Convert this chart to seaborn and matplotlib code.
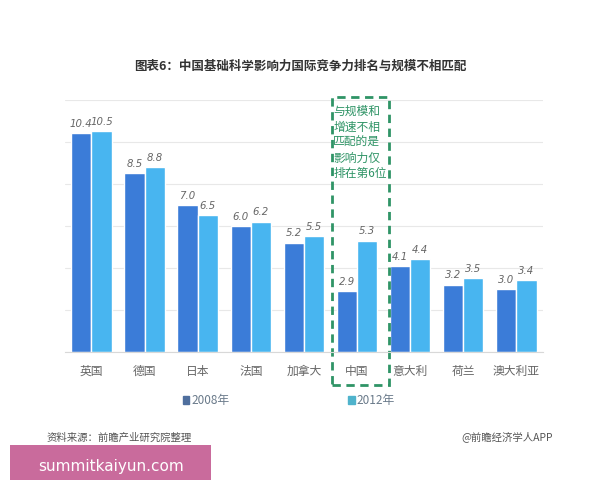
import pandas as pd
import matplotlib.pyplot as plt
import seaborn as sns
from matplotlib.patches import Rectangle, Patch

countries = ["英国", "德国", "日本", "法国", "加拿大", "中国", "意大利", "荷兰", "澳大利亚"]
values_2008 = [10.4, 8.5, 7.0, 6.0, 5.2, 2.9, 4.1, 3.2, 3.0]
values_2012 = [10.5, 8.8, 6.5, 6.2, 5.5, 5.3, 4.4, 3.5, 3.4]
years = ["2008年", "2012年"]

title = "图表6：中国基础科学影响力国际竞争力排名与规模不相匹配"
note_lines = ["与规模和", "增速不相", "匹配的是", "影响力仅", "排在第6位"]

bar_colors = ["#3b7cd8", "#48b5f0"]
legend_colors = ["#4f6f9e", "#4fb3cc"]
green = "#2f9466"

df = pd.DataFrame({
    "country": countries * 2,
    "value": values_2008 + values_2012,
    "year": [years[0]] * len(countries) + [years[1]] * len(countries),
})

sns.set_style("white")
plt.rcParams["font.family"] = ["Noto Sans CJK SC", "DejaVu Sans"]

fig = plt.figure(figsize=(6, 4.8), dpi=100)
ax = fig.add_axes([0.108, 0.267, 0.797, 0.525])

sns.barplot(data=df, x="country", y="value", hue="year", palette=bar_colors,
            width=0.76, saturation=1, legend=False, ax=ax)

for cont in ax.containers:
    ax.bar_label(cont, fmt="%.1f", padding=3, fontsize=7.3, color="#666666",
                 fontstyle="italic", family=["DejaVu Sans"])

ax.set_ylim(0, 12)
ax.set_xlim(-0.5, len(countries) - 0.5)
ax.set_yticks(range(0, 13, 2))
ax.grid(axis="y", color="#e8e8e8", linewidth=0.8)
ax.set_axisbelow(True)
ax.tick_params(axis="y", left=False, labelleft=False)
ax.tick_params(axis="x", bottom=False, labelsize=8.5, labelcolor="#666666", pad=6)
ax.set_xlabel("")
ax.set_ylabel("")
for s in ["top", "right", "left"]:
    ax.spines[s].set_visible(False)
ax.spines["bottom"].set_color("#d8d8d8")

# dashed box around China
box = Rectangle((4.52, -1.6), 1.08, 13.75, fill=False, edgecolor=green,
                linestyle=(0, (3, 2)), linewidth=2, clip_on=False)
ax.add_patch(box)
ax.text(4.55, 11.75, "\n".join(note_lines), color=green, fontsize=8.5,
        va="top", ha="left", linespacing=1.25)

handles = [Patch(color=c, label=y) for c, y in zip(legend_colors, years)]
leg = ax.legend(handles=handles, ncol=2, loc="center", bbox_to_anchor=(0.469, -0.194),
                frameon=False, handlelength=0.55, handleheight=0.55, handletextpad=0.2,
                columnspacing=10, fontsize=8.5)
for t in leg.get_texts():
    t.set_color("#6a7a8a")
    t.set_fontstyle("italic")

fig.text(0.5, 0.862, title, ha="center", va="center", fontsize=9,
         fontweight="bold", color="#333333")
fig.text(0.077, 0.088, "资料来源：前瞻产业研究院整理", ha="left", va="center",
         fontsize=7.5, color="#555555", fontstyle="italic")
fig.text(0.922, 0.09, "@前瞻经济学人APP", ha="right", va="center",
         fontsize=7.5, color="#555555")

# pink overlay banner
fig.patches.append(Rectangle((0.017, 0.0), 0.335, 0.073, transform=fig.transFigure,
                             facecolor="#c96b9c", edgecolor="none", zorder=5))
fig.text(0.185, 0.028, "summitkaiyun.com", ha="center", va="center", fontsize=11,
         color="white", zorder=6, family=["DejaVu Sans"])

fig.savefig("out.png", dpi=100)
